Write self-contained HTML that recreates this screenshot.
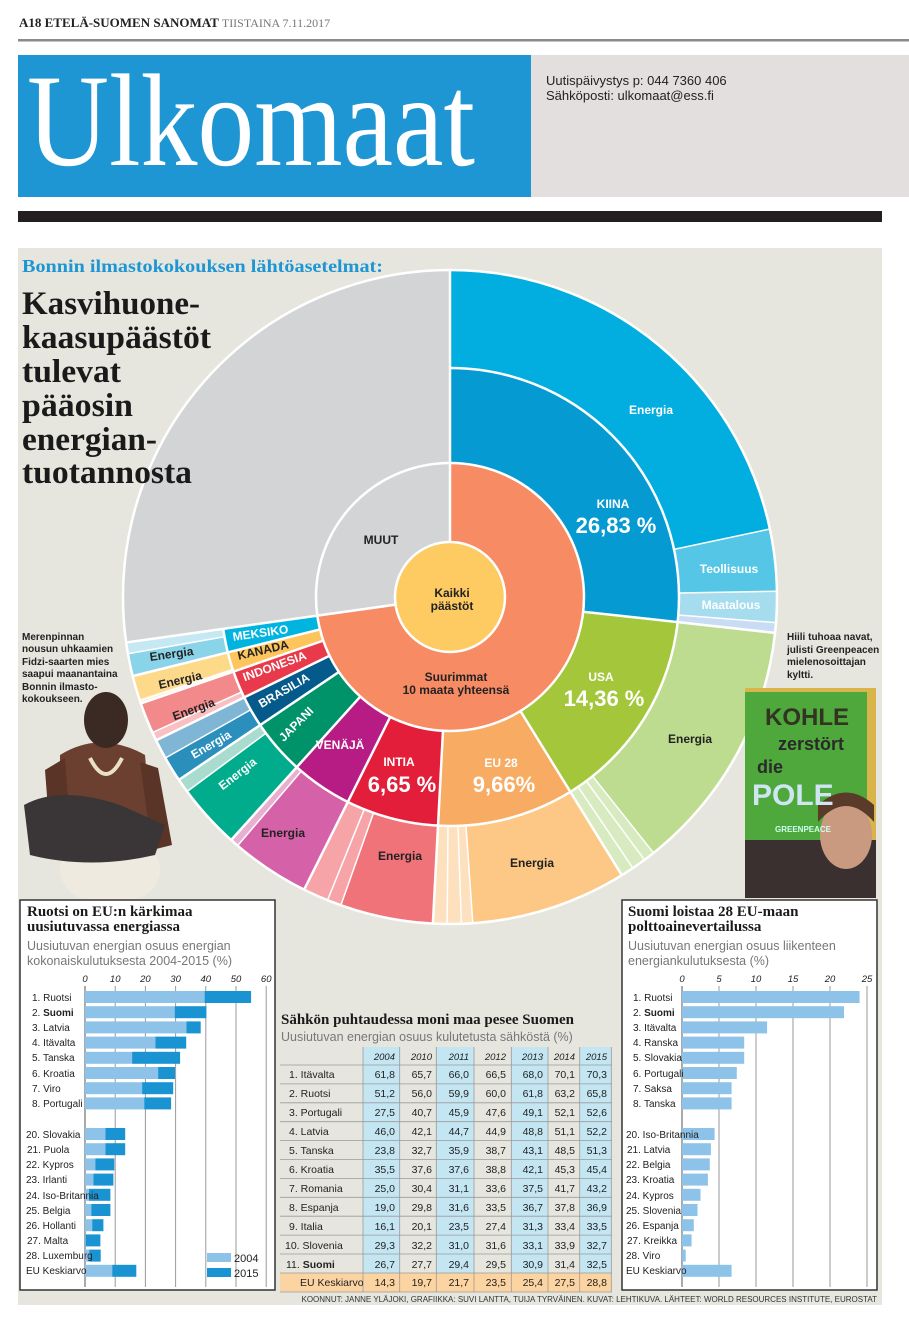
<!DOCTYPE html>
<html><head><meta charset="utf-8">
<style>
html,body{margin:0;padding:0;background:#fff;}
svg{display:block;}
.c{font-family:"Liberation Sans Narrow","Liberation Sans",sans-serif;}
.s{font-family:"Liberation Serif",serif;}
</style></head><body>
<svg width="909" height="1335" viewBox="0 0 909 1335" xmlns="http://www.w3.org/2000/svg">
<!-- header -->
<text x="19" y="27" class="s" font-size="13" font-weight="bold" fill="#222">A18  ETELÄ-SUOMEN SANOMAT <tspan font-weight="normal" fill="#777" font-size="12">TIISTAINA 7.11.2017</tspan></text>
<rect x="18" y="39" width="891" height="2.5" fill="#8a8a8a"/>
<rect x="18" y="55" width="513" height="142" fill="#1e96d4"/>
<rect x="531" y="55" width="378" height="142" fill="#e2dfde"/>
<text x="27" y="165" class="s" font-size="132" fill="#fff" textLength="448" lengthAdjust="spacingAndGlyphs">Ulkomaat</text>
<text x="546" y="85" class="c" font-size="13" fill="#222">Uutispäivystys p: 044 7360 406</text>
<text x="546" y="100" class="c" font-size="13" fill="#222">Sähköposti: ulkomaat@ess.fi</text>
<rect x="18" y="211" width="864" height="11" fill="#231f20"/>
<!-- panel -->
<rect x="18" y="248" width="864" height="1057" fill="#e6e6df"/>

<!-- PIE -->
<g transform="translate(450,597)">
<circle r="327" fill="#fff"/>
<circle r="94.5" fill="none" stroke="#f68b64" stroke-width="79" pathLength="360" stroke-dasharray="262 360" transform="rotate(-90)"/>
<circle r="94.5" fill="none" stroke="#d3d4d6" stroke-width="79" pathLength="360" stroke-dasharray="98 360" transform="rotate(172)"/>
<circle r="230.5" fill="none" stroke="#d3d4d6" stroke-width="193" pathLength="360" stroke-dasharray="98 360" transform="rotate(172)"/>
<g fill="none">
<circle r="181.5" stroke="#069ad2" stroke-width="95" pathLength="360" stroke-dasharray="96.3 360" transform="rotate(-90)"/>
<circle r="181.5" stroke="#a3c63a" stroke-width="95" pathLength="360" stroke-dasharray="52 360" transform="rotate(6.3)"/>
<circle r="181.5" stroke="#f7ab63" stroke-width="95" pathLength="360" stroke-dasharray="34.7 360" transform="rotate(58.3)"/>
<circle r="181.5" stroke="#e31e3a" stroke-width="95" pathLength="360" stroke-dasharray="23.5 360" transform="rotate(93)"/>
<circle r="181.5" stroke="#b71c85" stroke-width="95" pathLength="360" stroke-dasharray="15.5 360" transform="rotate(116.5)"/>
<circle r="181.5" stroke="#00936a" stroke-width="95" pathLength="360" stroke-dasharray="14 360" transform="rotate(132)"/>
<circle r="181.5" stroke="#045a8a" stroke-width="95" pathLength="360" stroke-dasharray="8 360" transform="rotate(146)"/>
<circle r="181.5" stroke="#e83a4a" stroke-width="95" pathLength="360" stroke-dasharray="7 360" transform="rotate(154)"/>
<circle r="181.5" stroke="#fdc55c" stroke-width="95" pathLength="360" stroke-dasharray="5 360" transform="rotate(161)"/>
<circle r="181.5" stroke="#00b4e0" stroke-width="95" pathLength="360" stroke-dasharray="6 360" transform="rotate(166)"/>
</g>
<g fill="none">
<circle r="278" stroke="#02addf" stroke-width="98" pathLength="360" stroke-dasharray="78 360" transform="rotate(-90)"/>
<circle r="278" stroke="#55c6e6" stroke-width="98" pathLength="360" stroke-dasharray="11 360" transform="rotate(-12)"/>
<circle r="278" stroke="#a5dcee" stroke-width="98" pathLength="360" stroke-dasharray="5.5 360" transform="rotate(-1)"/>
<circle r="278" stroke="#c8dcf3" stroke-width="98" pathLength="360" stroke-dasharray="1.8 360" transform="rotate(4.5)"/>
<circle r="278" stroke="#bddc8f" stroke-width="98" pathLength="360" stroke-dasharray="45.2 360" transform="rotate(6.3)"/>
<circle r="278" stroke="#d8eac0" stroke-width="98" pathLength="360" stroke-dasharray="6.8 360" transform="rotate(51.5)"/>
<circle r="278" stroke="#fdc886" stroke-width="98" pathLength="360" stroke-dasharray="27.7 360" transform="rotate(58.3)"/>
<circle r="278" stroke="#fde0bd" stroke-width="98" pathLength="360" stroke-dasharray="7 360" transform="rotate(86)"/>
<circle r="278" stroke="#f1737a" stroke-width="98" pathLength="360" stroke-dasharray="16.5 360" transform="rotate(93)"/>
<circle r="278" stroke="#f6a4a8" stroke-width="98" pathLength="360" stroke-dasharray="7 360" transform="rotate(109.5)"/>
<circle r="278" stroke="#d562a8" stroke-width="98" pathLength="360" stroke-dasharray="14 360" transform="rotate(116.5)"/>
<circle r="278" stroke="#e8b0d0" stroke-width="98" pathLength="360" stroke-dasharray="1.5 360" transform="rotate(130.5)"/>
<circle r="278" stroke="#00ac8c" stroke-width="98" pathLength="360" stroke-dasharray="11.5 360" transform="rotate(132)"/>
<circle r="278" stroke="#a9dccf" stroke-width="98" pathLength="360" stroke-dasharray="2.5 360" transform="rotate(143.5)"/>
<circle r="278" stroke="#2b8fbd" stroke-width="98" pathLength="360" stroke-dasharray="4.5 360" transform="rotate(146)"/>
<circle r="278" stroke="#7fb6d6" stroke-width="98" pathLength="360" stroke-dasharray="3.5 360" transform="rotate(150.5)"/>
<circle r="278" stroke="#f8c0c2" stroke-width="98" pathLength="360" stroke-dasharray="1.5 360" transform="rotate(154)"/>
<circle r="278" stroke="#f28a8c" stroke-width="98" pathLength="360" stroke-dasharray="5.5 360" transform="rotate(155.5)"/>
<circle r="278" stroke="#fde9c4" stroke-width="98" pathLength="360" stroke-dasharray="0.8 360" transform="rotate(161)"/>
<circle r="278" stroke="#fdd98a" stroke-width="98" pathLength="360" stroke-dasharray="4.2 360" transform="rotate(161.8)"/>
<circle r="278" stroke="#8ad4e9" stroke-width="98" pathLength="360" stroke-dasharray="4 360" transform="rotate(166)"/>
<circle r="278" stroke="#c5e8f2" stroke-width="98" pathLength="360" stroke-dasharray="2 360" transform="rotate(170)"/>
</g>
<circle r="55" fill="#fdcb62"/>
<g stroke="#fff" stroke-width="2.5" fill="none">
<circle r="55"/><circle r="134"/><circle r="327"/>
<circle r="229" pathLength="360" stroke-dasharray="262 360" transform="rotate(-90)"/>
<line x1="0" y1="-55" x2="0" y2="-327"/>
<line x1="0" y1="-55" x2="0" y2="-327" transform="rotate(262)"/>
<g>
<line x1="0" y1="-134" x2="0" y2="-327" transform="rotate(96.3)"/>
<line x1="0" y1="-134" x2="0" y2="-327" transform="rotate(148.3)"/>
<line x1="0" y1="-134" x2="0" y2="-327" transform="rotate(183)"/>
<line x1="0" y1="-134" x2="0" y2="-327" transform="rotate(206.5)"/>
<line x1="0" y1="-134" x2="0" y2="-327" transform="rotate(222)"/>
<line x1="0" y1="-134" x2="0" y2="-327" transform="rotate(236)"/>
<line x1="0" y1="-134" x2="0" y2="-327" transform="rotate(244)"/>
<line x1="0" y1="-134" x2="0" y2="-327" transform="rotate(251)"/>
<line x1="0" y1="-134" x2="0" y2="-327" transform="rotate(256)"/>
</g>
<g stroke-width="1.5">
<line x1="0" y1="-229" x2="0" y2="-327" transform="rotate(78)"/>
<line x1="0" y1="-229" x2="0" y2="-327" transform="rotate(89)"/>
<line x1="0" y1="-229" x2="0" y2="-327" transform="rotate(94.5)"/>
<line x1="0" y1="-229" x2="0" y2="-327" transform="rotate(141.5)"/>
<line x1="0" y1="-229" x2="0" y2="-327" transform="rotate(143.5)"/>
<line x1="0" y1="-229" x2="0" y2="-327" transform="rotate(146)"/>
<line x1="0" y1="-229" x2="0" y2="-327" transform="rotate(176)"/>
<line x1="0" y1="-229" x2="0" y2="-327" transform="rotate(178)"/>
<line x1="0" y1="-229" x2="0" y2="-327" transform="rotate(180.5)"/>
<line x1="0" y1="-229" x2="0" y2="-327" transform="rotate(199.5)"/>
<line x1="0" y1="-229" x2="0" y2="-327" transform="rotate(202)"/>
<line x1="0" y1="-229" x2="0" y2="-327" transform="rotate(220.5)"/>
<line x1="0" y1="-229" x2="0" y2="-327" transform="rotate(233.5)"/>
<line x1="0" y1="-229" x2="0" y2="-327" transform="rotate(240.5)"/>
<line x1="0" y1="-229" x2="0" y2="-327" transform="rotate(245.5)"/>
<line x1="0" y1="-229" x2="0" y2="-327" transform="rotate(251.5)"/>
<line x1="0" y1="-229" x2="0" y2="-327" transform="rotate(260)"/>
</g>
</g>
</g>
<!-- titles over pie -->
<text x="22" y="272" class="s" font-size="17.5" font-weight="bold" fill="#1e96d4" textLength="361" lengthAdjust="spacingAndGlyphs">Bonnin ilmastokokouksen lähtöasetelmat:</text>
<g class="s" font-weight="bold" fill="#1a1a1a" font-size="33">
<text x="22" y="314" textLength="178" lengthAdjust="spacingAndGlyphs">Kasvihuone-</text>
<text x="22" y="348" textLength="189" lengthAdjust="spacingAndGlyphs">kaasupäästöt</text>
<text x="22" y="382" textLength="99" lengthAdjust="spacingAndGlyphs">tulevat</text>
<text x="22" y="416" textLength="111" lengthAdjust="spacingAndGlyphs">pääosin</text>
<text x="22" y="450" textLength="135" lengthAdjust="spacingAndGlyphs">energian-</text>
<text x="22" y="483" textLength="170" lengthAdjust="spacingAndGlyphs">tuotannosta</text>
</g>
<!-- pie labels -->
<g class="c" font-weight="bold" text-anchor="middle" font-size="12">
<text x="651" y="414" fill="#fff">Energia</text>
<text x="613" y="508" fill="#fff">KIINA</text>
<text x="616" y="533" fill="#fff" font-size="22">26,83 %</text>
<text x="729" y="573" fill="#fff">Teollisuus</text>
<text x="731" y="609" fill="#fff">Maatalous</text>
<text x="601" y="681" fill="#fff">USA</text>
<text x="604" y="706" fill="#fff" font-size="22">14,36 %</text>
<text x="690" y="743" fill="#222">Energia</text>
<text x="501" y="767" fill="#fff">EU 28</text>
<text x="504" y="792" fill="#fff" font-size="22">9,66%</text>
<text x="532" y="867" fill="#222">Energia</text>
<text x="399" y="766" fill="#fff">INTIA</text>
<text x="402" y="792" fill="#fff" font-size="22">6,65 %</text>
<text x="400" y="860" fill="#222">Energia</text>
<text x="340" y="749" fill="#fff">VENÄJÄ</text>
<text x="283" y="837" fill="#222">Energia</text>
<text x="381" y="544" fill="#222">MUUT</text>
<text x="452" y="597" fill="#222">Kaikki</text>
<text x="452" y="610" fill="#222">päästöt</text>
<text x="456" y="681" fill="#222">Suurimmat</text>
<text x="456" y="694" fill="#222">10 maata yhteensä</text>
<text transform="translate(299,727) rotate(-45)" fill="#fff">JAPANI</text>
<text transform="translate(240,777) rotate(-38)" fill="#fff">Energia</text>
<text transform="translate(286,694) rotate(-30)" fill="#fff">BRASILIA</text>
<text transform="translate(213,748) rotate(-30)" fill="#fff">Energia</text>
<text transform="translate(276,670) rotate(-20)" fill="#fff">INDONESIA</text>
<text transform="translate(195,713) rotate(-20)" fill="#222">Energia</text>
<text transform="translate(264,654) rotate(-13)" fill="#222">KANADA</text>
<text transform="translate(181,684) rotate(-13)" fill="#222">Energia</text>
<text transform="translate(261,637) rotate(-8)" fill="#fff">MEKSIKO</text>
<text transform="translate(172,658) rotate(-8)" fill="#222">Energia</text>
</g>
<!-- man photo approx -->
<g>
<ellipse cx="110" cy="870" rx="50" ry="35" fill="#efeae0"/>
<path d="M60 755 Q100 730 145 755 L152 835 Q105 855 60 835 Z" fill="#6b4030"/>
<ellipse cx="106" cy="720" rx="22" ry="28" fill="#3b2a24"/>
<path d="M45 770 L65 758 L70 825 L50 835Z" fill="#5a3426"/>
<path d="M140 762 L158 768 L172 845 L152 850Z" fill="#5a3426"/>
<path d="M24 805 Q60 785 120 805 L165 825 L155 855 Q90 870 30 855 Z" fill="#3a3638"/>
<path d="M90 758 Q106 790 122 758" fill="none" stroke="#e8e0c8" stroke-width="4"/>
</g>
<!-- captions -->
<g class="c" font-weight="bold" font-size="10" fill="#222">
<text x="22" y="640">Merenpinnan</text><text x="22" y="652">nousun uhkaamien</text><text x="22" y="665">Fidzi-saarten mies</text><text x="22" y="677">saapui maanantaina</text><text x="22" y="690">Bonnin ilmasto-</text><text x="22" y="702">kokoukseen.</text>
<text x="787" y="640">Hiili tuhoaa navat,</text><text x="787" y="653">julisti Greenpeacen</text><text x="787" y="665">mielenosoittajan</text><text x="787" y="678">kyltti.</text>
</g>
<!-- protest photo approx -->
<g>
<rect x="745" y="688" width="131" height="210" fill="#d9b44a"/>
<rect x="745" y="692" width="122" height="155" fill="#4ea83c"/>
<rect x="745" y="840" width="131" height="58" fill="#3a3030"/>
<ellipse cx="846" cy="835" rx="26" ry="34" fill="#c99a80"/>
<path d="M818 822 Q846 790 874 822 L874 805 Q846 780 818 805Z" fill="#5a3a28"/>
<g class="c" font-weight="bold" fill="#2a2a2a">
<text x="765" y="725" font-size="24" fill="#332">KOHLE</text>
<text x="778" y="750" font-size="18">zerstört</text>
<text x="757" y="773" font-size="18">die</text>
<text x="752" y="805" font-size="30" fill="#cfe6f2">POLE</text>
<text x="775" y="832" font-size="8" fill="#cfe">GREENPEACE</text>
</g>
</g>

<!-- LEFT CHART -->
<rect x="20" y="900" width="255" height="390" fill="#fff" stroke="#333" stroke-width="1.5"/>
<text x="27" y="916" class="s" font-size="15" font-weight="bold" fill="#1a1a1a">Ruotsi on EU:n kärkimaa</text>
<text x="27" y="931" class="s" font-size="15" font-weight="bold" fill="#1a1a1a">uusiutuvassa energiassa</text>
<text x="27" y="950" class="c" font-size="12.5" fill="#777">Uusiutuvan energian osuus energian</text>
<text x="27" y="965" class="c" font-size="12.5" fill="#777">kokonaiskulutuksesta 2004-2015 (%)</text>
<g class="c" font-size="9.5" font-style="italic" fill="#222" text-anchor="middle">
<text x="85" y="982">0</text><text x="115.2" y="982">10</text><text x="145.4" y="982">20</text><text x="175.6" y="982">30</text><text x="205.8" y="982">40</text><text x="236" y="982">50</text><text x="266.2" y="982">60</text>
</g>
<g stroke="#9a9a9a" stroke-width="1">
<line x1="85" y1="986" x2="85" y2="1287" stroke="#555"/><line x1="115.2" y1="986" x2="115.2" y2="1287"/><line x1="145.4" y1="986" x2="145.4" y2="1287"/><line x1="175.6" y1="986" x2="175.6" y2="1287"/><line x1="205.8" y1="986" x2="205.8" y2="1287"/><line x1="236" y1="986" x2="236" y2="1287"/><line x1="266.2" y1="986" x2="266.2" y2="1287"/>
</g>
<g fill="#8ec3e9">
<rect x="85" y="991" width="119.6" height="12"/><rect x="85" y="1006.2" width="89.7" height="12"/><rect x="85" y="1021.4" width="101.5" height="12"/><rect x="85" y="1036.6" width="70.4" height="12"/><rect x="85" y="1051.8" width="47.1" height="12"/><rect x="85" y="1067" width="73.1" height="12"/><rect x="85" y="1082.2" width="57.1" height="12"/><rect x="85" y="1097.4" width="59.2" height="12"/>
<rect x="85" y="1128" width="20.5" height="12"/><rect x="85" y="1143.2" width="20.5" height="12"/><rect x="85" y="1158.4" width="10.3" height="12"/><rect x="85" y="1173.6" width="8.5" height="12"/><rect x="85" y="1188.8" width="3.9" height="12"/><rect x="85" y="1204" width="6.3" height="12"/><rect x="85" y="1219.2" width="7.2" height="12"/><rect x="85" y="1234.4" width="0.6" height="12"/><rect x="85" y="1249.6" width="4.2" height="12"/><rect x="85" y="1264.8" width="27.2" height="12"/>
</g>
<g fill="#1a93d3">
<rect x="204.6" y="991" width="46.5" height="12"/><rect x="174.7" y="1006.2" width="31.7" height="12"/><rect x="186.5" y="1021.4" width="14.2" height="12"/><rect x="155.4" y="1036.6" width="30.8" height="12"/><rect x="132.1" y="1051.8" width="48" height="12"/><rect x="158.1" y="1067" width="16.9" height="12"/><rect x="142.1" y="1082.2" width="31.1" height="12"/><rect x="144.2" y="1097.4" width="26.9" height="12"/>
<rect x="105.5" y="1128" width="19.7" height="12"/><rect x="105.5" y="1143.2" width="19.7" height="12"/><rect x="95.3" y="1158.4" width="19" height="12"/><rect x="93.5" y="1173.6" width="19.9" height="12"/><rect x="88.9" y="1188.8" width="21.5" height="12"/><rect x="91.3" y="1204" width="19.1" height="12"/><rect x="92.2" y="1219.2" width="11.2" height="12"/><rect x="85.6" y="1234.4" width="14.8" height="12"/><rect x="89.2" y="1249.6" width="11.5" height="12"/><rect x="112.2" y="1264.8" width="24.1" height="12"/>
</g>
<g class="c" font-size="10" fill="#222">
<text x="32" y="1001">1. Ruotsi</text><text x="32" y="1016">2. <tspan font-weight="bold">Suomi</tspan></text><text x="32" y="1031">3. Latvia</text><text x="32" y="1046">4. Itävalta</text><text x="32" y="1061">5. Tanska</text><text x="32" y="1077">6. Kroatia</text><text x="32" y="1092">7. Viro</text><text x="32" y="1107">8. Portugali</text>
<text x="26" y="1138">20. Slovakia</text><text x="27" y="1153">21. Puola</text><text x="26" y="1168">22. Kypros</text><text x="26" y="1183">23. Irlanti</text><text x="26" y="1199">24. Iso-Britannia</text><text x="26" y="1214">25. Belgia</text><text x="26" y="1229">26. Hollanti</text><text x="27" y="1244">27. Malta</text><text x="26" y="1259">28. Luxemburg</text><text x="26" y="1274">EU Keskiarvo</text>
</g>
<rect x="207" y="1253" width="24" height="9" fill="#8ec3e9"/><rect x="207" y="1268" width="24" height="9" fill="#1a93d3"/>
<text x="234" y="1262" class="c" font-size="11" fill="#222">2004</text><text x="234" y="1277" class="c" font-size="11" fill="#222">2015</text>

<!-- RIGHT CHART -->
<rect x="622" y="900" width="255" height="390" fill="#fff" stroke="#333" stroke-width="1.5"/>
<text x="628" y="916" class="s" font-size="15" font-weight="bold" fill="#1a1a1a">Suomi loistaa 28 EU-maan</text>
<text x="628" y="931" class="s" font-size="15" font-weight="bold" fill="#1a1a1a">polttoainevertailussa</text>
<text x="628" y="950" class="c" font-size="12.5" fill="#777">Uusiutuvan energian osuus liikenteen</text>
<text x="628" y="965" class="c" font-size="12.5" fill="#777">energiankulutuksesta (%)</text>
<g class="c" font-size="9.5" font-style="italic" fill="#222" text-anchor="middle">
<text x="682" y="982">0</text><text x="719" y="982">5</text><text x="756" y="982">10</text><text x="793" y="982">15</text><text x="830" y="982">20</text><text x="867" y="982">25</text>
</g>
<g stroke="#9a9a9a" stroke-width="1">
<line x1="682" y1="986" x2="682" y2="1287" stroke="#555"/><line x1="719" y1="986" x2="719" y2="1287"/><line x1="756" y1="986" x2="756" y2="1287"/><line x1="793" y1="986" x2="793" y2="1287"/><line x1="830" y1="986" x2="830" y2="1287"/><line x1="867" y1="986" x2="867" y2="1287"/>
</g>
<g fill="#8ec3e9">
<rect x="682" y="991" width="177.6" height="12"/><rect x="682" y="1006.2" width="162" height="12"/><rect x="682" y="1021.4" width="85.1" height="12"/><rect x="682" y="1036.6" width="62.2" height="12"/><rect x="682" y="1051.8" width="62.2" height="12"/><rect x="682" y="1067" width="54.8" height="12"/><rect x="682" y="1082.2" width="49.6" height="12"/><rect x="682" y="1097.4" width="49.6" height="12"/>
<rect x="682" y="1128" width="32.6" height="12"/><rect x="682" y="1143.2" width="28.9" height="12"/><rect x="682" y="1158.4" width="27.8" height="12"/><rect x="682" y="1173.6" width="25.9" height="12"/><rect x="682" y="1188.8" width="18.5" height="12"/><rect x="682" y="1204" width="15.5" height="12"/><rect x="682" y="1219.2" width="11.8" height="12"/><rect x="682" y="1234.4" width="9.6" height="12"/><rect x="682" y="1249.6" width="3.7" height="12"/><rect x="682" y="1264.8" width="49.6" height="12"/>
</g>
<g class="c" font-size="10" fill="#222">
<text x="633" y="1001">1. Ruotsi</text><text x="633" y="1016">2. <tspan font-weight="bold">Suomi</tspan></text><text x="633" y="1031">3. Itävalta</text><text x="633" y="1046">4. Ranska</text><text x="633" y="1061">5. Slovakia</text><text x="633" y="1077">6. Portugali</text><text x="633" y="1092">7. Saksa</text><text x="633" y="1107">8. Tanska</text>
<text x="626" y="1138">20. Iso-Britannia</text><text x="627" y="1153">21. Latvia</text><text x="626" y="1168">22. Belgia</text><text x="626" y="1183">23. Kroatia</text><text x="626" y="1199">24. Kypros</text><text x="626" y="1214">25. Slovenia</text><text x="626" y="1229">26. Espanja</text><text x="627" y="1244">27. Kreikka</text><text x="626" y="1259">28. Viro</text><text x="626" y="1274">EU Keskiarvo</text>
</g>

<!-- TABLE -->
<text x="281" y="1024" class="s" font-size="15" font-weight="bold" fill="#1a1a1a">Sähkön puhtaudessa moni maa pesee Suomen</text>
<text x="281" y="1041" class="c" font-size="12.5" fill="#777">Uusiutuvan energian osuus kulutetusta sähköstä (%)</text>
<g fill="#c4e6f3">
<rect x="363" y="1047" width="36.7" height="226"/><rect x="436.3" y="1047" width="37.7" height="226"/><rect x="511.3" y="1047" width="36.7" height="226"/><rect x="579.7" y="1047" width="31.6" height="226"/>
</g>
<rect x="280" y="1273" width="331.3" height="19" fill="#fcd4a2"/>
<g stroke="#9a9a9a" stroke-width="0.8">
<line x1="280" y1="1065" x2="612" y2="1065"/><line x1="280" y1="1083.9" x2="612" y2="1083.9"/><line x1="280" y1="1102.8" x2="612" y2="1102.8"/><line x1="280" y1="1121.7" x2="612" y2="1121.7"/><line x1="280" y1="1140.6" x2="612" y2="1140.6"/><line x1="280" y1="1159.5" x2="612" y2="1159.5"/><line x1="280" y1="1178.4" x2="612" y2="1178.4"/><line x1="280" y1="1197.3" x2="612" y2="1197.3"/><line x1="280" y1="1216.2" x2="612" y2="1216.2"/><line x1="280" y1="1235.1" x2="612" y2="1235.1"/><line x1="280" y1="1254" x2="612" y2="1254"/><line x1="280" y1="1273" x2="612" y2="1273"/><line x1="280" y1="1292" x2="612" y2="1292"/>
<line x1="363" y1="1047" x2="363" y2="1292"/><line x1="399.7" y1="1047" x2="399.7" y2="1292"/><line x1="436.3" y1="1047" x2="436.3" y2="1292"/><line x1="474" y1="1047" x2="474" y2="1292"/><line x1="511.3" y1="1047" x2="511.3" y2="1292"/><line x1="548" y1="1047" x2="548" y2="1292"/><line x1="579.7" y1="1047" x2="579.7" y2="1292"/><line x1="611.3" y1="1047" x2="611.3" y2="1292"/>
</g>
<g class="c" font-size="9.5" font-style="italic" fill="#222" text-anchor="end">
<text x="395" y="1060">2004</text><text x="432" y="1060">2010</text><text x="469" y="1060">2011</text><text x="506" y="1060">2012</text><text x="543" y="1060">2013</text><text x="575" y="1060">2014</text><text x="607" y="1060">2015</text>
</g>
<g class="c" font-size="10.5" fill="#222">
<text x="289" y="1078">1.  Itävalta</text><text x="289" y="1097">2.  Ruotsi</text><text x="289" y="1116">3.  Portugali</text><text x="289" y="1135">4.  Latvia</text><text x="289" y="1154">5.  Tanska</text><text x="289" y="1173">6.  Kroatia</text><text x="289" y="1192">7.  Romania</text><text x="289" y="1211">8.  Espanja</text><text x="289" y="1230">9.  Italia</text><text x="285" y="1249">10.  Slovenia</text><text x="286" y="1268">11.  <tspan font-weight="bold">Suomi</tspan></text><text x="300" y="1286">EU Keskiarvo</text>
</g>
<g class="c" font-size="10.5" fill="#222" text-anchor="end">
<text y="1078"><tspan x="395">61,8</tspan><tspan x="432">65,7</tspan><tspan x="469">66,0</tspan><tspan x="506">66,5</tspan><tspan x="543">68,0</tspan><tspan x="575">70,1</tspan><tspan x="607">70,3</tspan></text>
<text y="1097"><tspan x="395">51,2</tspan><tspan x="432">56,0</tspan><tspan x="469">59,9</tspan><tspan x="506">60,0</tspan><tspan x="543">61,8</tspan><tspan x="575">63,2</tspan><tspan x="607">65,8</tspan></text>
<text y="1116"><tspan x="395">27,5</tspan><tspan x="432">40,7</tspan><tspan x="469">45,9</tspan><tspan x="506">47,6</tspan><tspan x="543">49,1</tspan><tspan x="575">52,1</tspan><tspan x="607">52,6</tspan></text>
<text y="1135"><tspan x="395">46,0</tspan><tspan x="432">42,1</tspan><tspan x="469">44,7</tspan><tspan x="506">44,9</tspan><tspan x="543">48,8</tspan><tspan x="575">51,1</tspan><tspan x="607">52,2</tspan></text>
<text y="1154"><tspan x="395">23,8</tspan><tspan x="432">32,7</tspan><tspan x="469">35,9</tspan><tspan x="506">38,7</tspan><tspan x="543">43,1</tspan><tspan x="575">48,5</tspan><tspan x="607">51,3</tspan></text>
<text y="1173"><tspan x="395">35,5</tspan><tspan x="432">37,6</tspan><tspan x="469">37,6</tspan><tspan x="506">38,8</tspan><tspan x="543">42,1</tspan><tspan x="575">45,3</tspan><tspan x="607">45,4</tspan></text>
<text y="1192"><tspan x="395">25,0</tspan><tspan x="432">30,4</tspan><tspan x="469">31,1</tspan><tspan x="506">33,6</tspan><tspan x="543">37,5</tspan><tspan x="575">41,7</tspan><tspan x="607">43,2</tspan></text>
<text y="1211"><tspan x="395">19,0</tspan><tspan x="432">29,8</tspan><tspan x="469">31,6</tspan><tspan x="506">33,5</tspan><tspan x="543">36,7</tspan><tspan x="575">37,8</tspan><tspan x="607">36,9</tspan></text>
<text y="1230"><tspan x="395">16,1</tspan><tspan x="432">20,1</tspan><tspan x="469">23,5</tspan><tspan x="506">27,4</tspan><tspan x="543">31,3</tspan><tspan x="575">33,4</tspan><tspan x="607">33,5</tspan></text>
<text y="1249"><tspan x="395">29,3</tspan><tspan x="432">32,2</tspan><tspan x="469">31,0</tspan><tspan x="506">31,6</tspan><tspan x="543">33,1</tspan><tspan x="575">33,9</tspan><tspan x="607">32,7</tspan></text>
<text y="1268"><tspan x="395">26,7</tspan><tspan x="432">27,7</tspan><tspan x="469">29,4</tspan><tspan x="506">29,5</tspan><tspan x="543">30,9</tspan><tspan x="575">31,4</tspan><tspan x="607">32,5</tspan></text>
<text y="1286"><tspan x="395">14,3</tspan><tspan x="432">19,7</tspan><tspan x="469">21,7</tspan><tspan x="506">23,5</tspan><tspan x="543">25,4</tspan><tspan x="575">27,5</tspan><tspan x="607">28,8</tspan></text>
</g>
<text x="877" y="1302" class="c" font-size="8" fill="#333" text-anchor="end">KOONNUT: JANNE YLÄJOKI, GRAFIIKKA: SUVI LANTTA, TUIJA TYRVÄINEN. KUVAT: LEHTIKUVA. LÄHTEET: WORLD RESOURCES INSTITUTE, EUROSTAT</text>
</svg>
</body></html>
